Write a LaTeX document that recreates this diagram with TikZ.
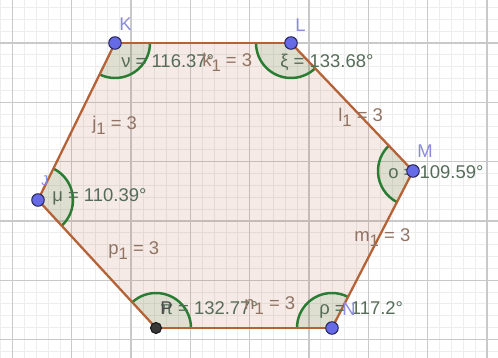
\documentclass[tikz,border=0pt]{standalone}
\usepackage{fontspec}
\setmainfont{Liberation Sans}
\definecolor{edgec}{RGB}{182,98,55}
\definecolor{anglec}{RGB}{40,125,50}
\definecolor{angtxt}{RGB}{85,108,88}
\definecolor{sidetxt}{RGB}{145,115,100}
\definecolor{vtxt}{RGB}{140,140,222}
\definecolor{ptc}{RGB}{102,106,230}
\definecolor{ptd}{RGB}{40,40,95}
\newcommand\sbone{\raisebox{-0.5ex}{\fontsize{9.5}{10}\selectfont 1}}
\begin{document}
\begin{tikzpicture}[x=0.02cm,y=-0.02cm,
  minorgrid/.style={draw=black!7,line width=0.5pt},
  majorgrid/.style={draw=black!21,line width=0.75pt},
  hexedge/.style={draw=edgec,line width=1.3pt,line join=round},
  hexfill/.style={fill=edgec,fill opacity=0.13},
  secfill/.style={fill=anglec,fill opacity=0.11},
  secarc/.style={draw=anglec,line width=1.4pt},
  lbl/.style={anchor=base west,inner sep=0pt,font=\fontsize{10.5}{12}\selectfont},
  angtext/.style={lbl,text=angtxt},
  sidetext/.style={lbl,text=sidetxt},
  vtext/.style={lbl,text=vtxt},
  pt/.style={circle,fill=ptc,draw=ptd,line width=0.6pt,minimum size=0.25cm,inner sep=0pt},
  ptdark/.style={circle,fill=black!78,draw=black!90,line width=0.6pt,minimum size=0.22cm,inner sep=0pt}]
\useasboundingbox (0,0) rectangle (498,358);
\clip (0,0) rectangle (498,358);
\fill[white] (0,0) rectangle (498,358);
% grid
\foreach \i in {0,...,42} \draw[minorgrid] ({0.64+11.86*\i},0) -- ({0.64+11.86*\i},358);
\foreach \i in {0,...,30} \draw[minorgrid] (0,{7.42+11.86*\i}) -- (498,{7.42+11.86*\i});
\foreach \i in {0,...,8} \draw[majorgrid] ({12.5+59.3*\i},0) -- ({12.5+59.3*\i},358);
\foreach \i in {0,...,5} \draw[majorgrid] (0,{43+59.3*\i}) -- (498,{43+59.3*\i});
% vertices
\coordinate (K) at (115,43);
\coordinate (L) at (291,43);
\coordinate (M) at (413,171);
\coordinate (N) at (332,328);
\coordinate (P) at (156,328);
\coordinate (J) at (38,200);
% fill
\path[hexfill] (K) -- (L) -- (M) -- (N) -- (P) -- (J) -- cycle;
% angle sectors
\path[secfill] (K) -- ++(0:35) arc[start angle=0,end angle=116.13,radius=35] -- cycle;
\path[secfill] (L) -- ++(46.37:35) arc[start angle=46.37,end angle=180,radius=35] -- cycle;
\path[secfill] (M) -- ++(117.29:35) arc[start angle=117.29,end angle=226.37,radius=35] -- cycle;
\path[secfill] (N) -- ++(180:35) arc[start angle=180,end angle=297.29,radius=35] -- cycle;
\path[secfill] (P) -- ++(227.33:35) arc[start angle=227.33,end angle=360,radius=35] -- cycle;
\path[secfill] (J) -- ++(-63.87:35) arc[start angle=-63.87,end angle=47.33,radius=35] -- cycle;
\draw[secarc] (K) ++(0:35) arc[start angle=0,end angle=116.13,radius=35];
\draw[secarc] (L) ++(46.37:35) arc[start angle=46.37,end angle=180,radius=35];
\draw[secarc] (M) ++(117.29:35) arc[start angle=117.29,end angle=226.37,radius=35];
\draw[secarc] (N) ++(180:35) arc[start angle=180,end angle=297.29,radius=35];
\draw[secarc] (P) ++(227.33:35) arc[start angle=227.33,end angle=360,radius=35];
\draw[secarc] (J) ++(-63.87:35) arc[start angle=-63.87,end angle=47.33,radius=35];
% edges
\draw[hexedge] (K) -- (L);
\draw[hexedge] (L) -- (M);
\draw[hexedge] (M) -- (N);
\draw[hexedge] (N) -- (P);
\draw[hexedge] (P) -- (J);
\draw[hexedge] (J) -- (K);
% angle labels
\node[angtext] (aK) at (121,68) {ν = 116.37°};
\node[angtext] (aL) at (280,68) {ξ = 133.68°};
\node[angtext] (aM) at (388,179) {ο = 109.59°};
\node[angtext] (aN) at (319,315) {ρ = 117.2°};
\node[angtext] (aP) at (160,315) {π = 132.77°};
\node[angtext] (aJ) at (52,202) {μ = 110.39°};
% side labels
\node[sidetext] (sk) at (202,67) {k\sbone{} = 3};
\node[sidetext] (sl) at (338,122) {l\sbone{} = 3};
\node[sidetext] (sm) at (354,242) {m\sbone{} = 3};
\node[sidetext] (sn) at (244,310) {n\sbone{} = 3};
\node[sidetext] (sp) at (108,255) {p\sbone{} = 3};
\node[sidetext] (sj) at (92,130) {j\sbone{} = 3};
% vertex labels
\node[vtext] (lK) at (119,31) {K};
\node[vtext] (lL) at (295,32) {L};
\node[vtext] (lM) at (417,158) {M};
\node[vtext] (lN) at (342,316) {N};
\node[vtext,font=\fontsize{8}{9}\selectfont] (lJ) at (41,186) {J};
\node[lbl,text=black!70] (lP) at (160,315) {P};
% points
\node[pt] (pK) at (K) {};
\node[pt] (pL) at (L) {};
\node[pt] (pM) at (M) {};
\node[pt] (pN) at (N) {};
\node[pt] (pJ) at (J) {};
\node[ptdark] (pP) at (P) {};
\end{tikzpicture}
\end{document}
